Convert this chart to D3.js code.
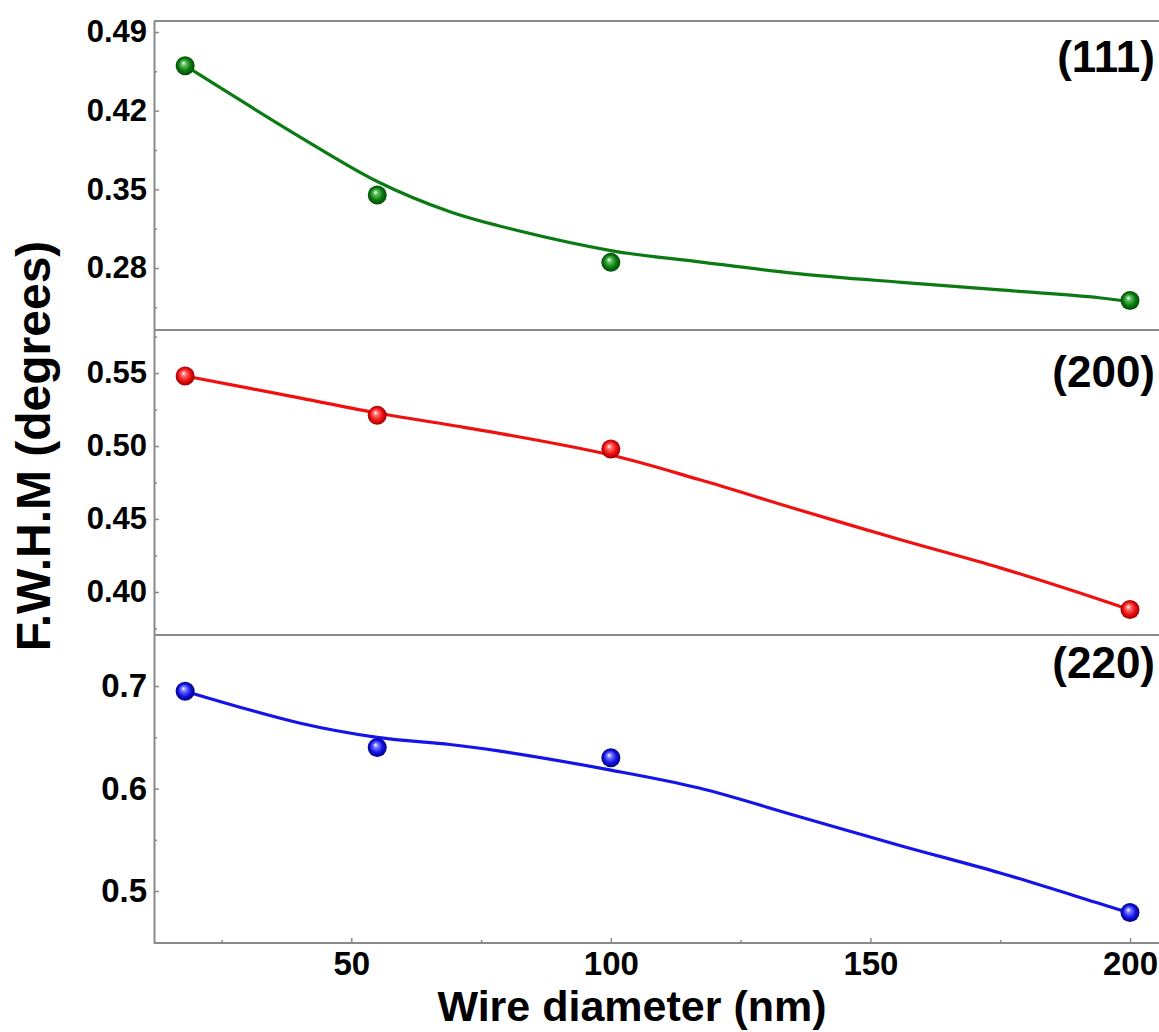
<!DOCTYPE html>
<html>
<head>
<meta charset="utf-8">
<script src="https://cdn.jsdelivr.net/npm/d3@7"></script>
<style>
  html, body { margin: 0; padding: 0; background: #fff; }
  svg { display: block; }
  text { font-family: "Liberation Sans", Arial, sans-serif; font-weight: bold; fill: #000; }
</style>
</head>
<body>
<div id="chart"></div>
<script>
// measured points (wire diameter in nm, FWHM in degrees)
const diameters = [18, 55, 100, 200];
const fwhm111 = [0.460, 0.345, 0.285, 0.251];
const fwhm200 = [0.548, 0.521, 0.498, 0.388];
const fwhm220 = [0.695, 0.640, 0.630, 0.479];

// fitted curves
const fitX = [18, 40, 55, 69, 78, 100, 117, 136, 156, 175, 194, 200];
const fit111 = [0.460, 0.397, 0.357, 0.330, 0.318, 0.2955, 0.2855, 0.2750, 0.2672, 0.2605, 0.2535, 0.250];
const fit200 = [0.548, 0.533, 0.5226, 0.5144, 0.509, 0.4938, 0.4770, 0.4565, 0.4356, 0.4165, 0.3950, 0.3877];
const fit220 = [0.695, 0.664, 0.650, 0.643, 0.637, 0.618, 0.6005, 0.573, 0.544, 0.5176, 0.4880, 0.4785];

const panelLabels = ["(111)", "(200)", "(220)"];
const xTicks = [50, 100, 150, 200];
const xMinorTicks = [25, 75, 125, 175];
const yTicks111 = [0.28, 0.35, 0.42, 0.49];
const yTicks200 = [0.40, 0.45, 0.50, 0.55];
const yTicks220 = [0.5, 0.6, 0.7];

const width = 1159, height = 1032;
const left = 154;
const axisGray = "#8a8a8a";

const svg = d3.select("#chart").append("svg")
    .attr("width", width)
    .attr("height", height);

const x = d3.scaleLinear().domain([12, 200]).range([left, 1130]);

const panels = [
    { label: panelLabels[0], pts: fwhm111, fit: fit111, ticks: yTicks111, fmt: ".2f",
      domain: [0.2248, 0.4998], range: [330, 21], color: "#0b7a12", dark: "#034a06", light: "#5fc05f",
      labelY: 72, fontSize: 31 },
    { label: panelLabels[1], pts: fwhm200, fit: fit200, ticks: yTicks200, fmt: ".2f",
      domain: [0.3705, 0.5795], range: [635, 330], color: "#f01010", dark: "#9a0000", light: "#ff7070",
      labelY: 387, fontSize: 31 },
    { label: panelLabels[2], pts: fwhm220, fit: fit220, ticks: yTicks220, fmt: ".1f",
      domain: [0.4493, 0.7498], range: [943, 635], color: "#1414e8", dark: "#00007a", light: "#7a7aff",
      labelY: 678, fontSize: 33 }
];

const defs = svg.append("defs");

panels.forEach((p, i) => {
    const y = d3.scaleLinear().domain(p.domain).range(p.range);

    // sphere shading for the markers
    const grad = defs.append("radialGradient")
        .attr("id", "ball" + i)
        .attr("cx", "50%").attr("cy", "50%").attr("r", "50%")
        .attr("fx", "40%").attr("fy", "35%");
    grad.append("stop").attr("offset", "0%").attr("stop-color", "#ffffff");
    grad.append("stop").attr("offset", "25%").attr("stop-color", p.light);
    grad.append("stop").attr("offset", "65%").attr("stop-color", p.color);
    grad.append("stop").attr("offset", "100%").attr("stop-color", p.dark);

    // panel frame line (top of each panel)
    svg.append("line")
        .attr("x1", left).attr("x2", width)
        .attr("y1", p.range[1]).attr("y2", p.range[1])
        .attr("stroke", axisGray).attr("stroke-width", 2);

    const yAxis = d3.axisLeft(y)
        .tickValues(p.ticks)
        .tickFormat(d3.format(p.fmt))
        .tickSizeInner(-5)
        .tickSizeOuter(0)
        .tickPadding(7);

    const minor = d3.range(p.ticks.length + 1)
        .map(k => p.ticks[0] + (k - 0.5) * (p.ticks[1] - p.ticks[0]))
        .filter(v => v > p.domain[0] && v < p.domain[1]);

    svg.append("g")
        .attr("transform", `translate(${left},0)`)
        .call(d3.axisLeft(y).tickValues(minor).tickFormat("").tickSizeInner(-3).tickSizeOuter(0))
        .call(g => g.select(".domain").remove())
        .selectAll("line").attr("stroke", axisGray).attr("stroke-width", 1.5);

    const gy = svg.append("g")
        .attr("transform", `translate(${left},0)`)
        .call(yAxis);
    gy.select(".domain").attr("stroke", axisGray).attr("stroke-width", 2);
    gy.selectAll(".tick line").attr("stroke", axisGray).attr("stroke-width", 1.5);
    gy.selectAll("text")
        .style("font-size", p.fontSize + "px")
        .style("font-family", "'Liberation Sans', Arial, sans-serif")
        .style("font-weight", "bold")
        .attr("fill", "#000");

    const fitData = fitX.map((d, k) => [d, p.fit[k]]);
    const line = d3.line()
        .x(d => x(d[0]))
        .y(d => y(d[1]))
        .curve(d3.curveCatmullRom.alpha(0.5));

    svg.append("path")
        .datum(fitData)
        .attr("d", line)
        .attr("fill", "none")
        .attr("stroke", p.color)
        .attr("stroke-width", 3.2)
        .attr("stroke-linejoin", "round");

    svg.append("g").selectAll("circle")
        .data(diameters.map((d, k) => [d, p.pts[k]]))
        .join("circle")
        .attr("cx", d => x(d[0]))
        .attr("cy", d => y(d[1]))
        .attr("r", 9.5)
        .attr("fill", `url(#ball${i})`);

    svg.append("text")
        .attr("x", 1155)
        .attr("y", p.labelY)
        .attr("text-anchor", "end")
        .style("font-size", "44px")
        .text(p.label);
});

// bottom axis
const yBottom = 943;
svg.append("line")
    .attr("x1", left).attr("x2", width)
    .attr("y1", yBottom).attr("y2", yBottom)
    .attr("stroke", axisGray).attr("stroke-width", 2);

svg.append("g")
    .attr("transform", `translate(0,${yBottom})`)
    .call(d3.axisBottom(x).tickValues(xMinorTicks).tickFormat("").tickSizeInner(-3).tickSizeOuter(0))
    .call(g => g.select(".domain").remove())
    .selectAll("line").attr("stroke", axisGray).attr("stroke-width", 1.5);

const gx = svg.append("g")
    .attr("transform", `translate(0,${yBottom})`)
    .call(d3.axisBottom(x).tickValues(xTicks).tickFormat(d3.format("d"))
        .tickSizeInner(-5).tickSizeOuter(0).tickPadding(9));
gx.select(".domain").remove();
gx.selectAll(".tick line").attr("stroke", axisGray).attr("stroke-width", 1.5);
gx.selectAll("text")
    .style("font-size", "33px")
    .style("font-family", "'Liberation Sans', Arial, sans-serif")
    .style("font-weight", "bold")
    .attr("fill", "#000");

// axis titles
svg.append("text")
    .attr("x", 632)
    .attr("y", 1021)
    .attr("text-anchor", "middle")
    .style("font-size", "43px")
    .text("Wire diameter (nm)");

svg.append("text")
    .attr("transform", "translate(50,446) rotate(-90)")
    .attr("text-anchor", "middle")
    .style("font-size", "48px")
    .text("F.W.H.M (degrees)");
</script>
</body>
</html>
